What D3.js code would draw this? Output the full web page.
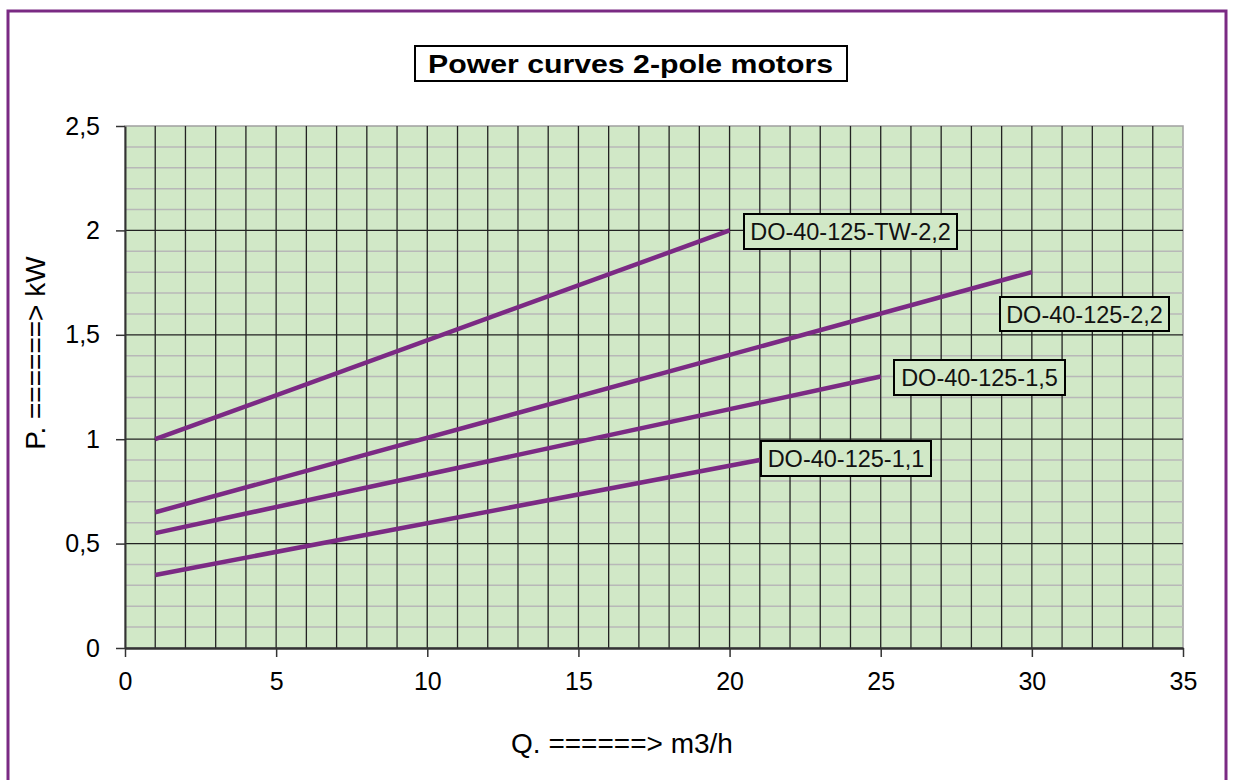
<!DOCTYPE html>
<html><head><meta charset="utf-8">
<script src="https://cdn.jsdelivr.net/npm/d3@7"></script>
<style>body{margin:0;background:#fff;} svg{display:block;font-family:"Liberation Sans",Arial,sans-serif;} text{white-space:pre;}</style>
</head><body>
<svg id="c" width="1233" height="780"></svg>
<script>
const seriesNames = ["DO-40-125-TW-2,2","DO-40-125-2,2","DO-40-125-1,5","DO-40-125-1,1"];
const qTW22 = [1, 20];   const pTW22 = [1.0, 2.0];
const q22   = [1, 30];   const p22   = [0.65, 1.8];
const q15   = [1, 25];   const p15   = [0.55, 1.3];
const q11   = [1, 21];   const p11   = [0.35, 0.9];
const xTicks = [0,5,10,15,20,25,30,35];
const yTicks = [0,0.5,1,1.5,2,2.5];
const yTickLabels = ["0","0,5","1","1,5","2","2,5"];
const title = "Power curves 2-pole motors";
const xTitle = "Q. ======> m3/h";
const yTitle = "P. ======> kW";

const svg = d3.select("#c");
const m = {l:125, r:1183, t:126, b:648};
const x = d3.scaleLinear().domain([0,35]).range([m.l,m.r]);
const y = d3.scaleLinear().domain([0,2.5]).range([m.b,m.t]);

// outer border
svg.append("rect").attr("x",8).attr("y",11).attr("width",1218).attr("height",780)
  .attr("fill","#fff").attr("stroke","#7a2a83").attr("stroke-width",3);

// plot bg
svg.append("rect").attr("x",m.l).attr("y",m.t).attr("width",m.r-m.l).attr("height",m.b-m.t)
  .attr("fill","#d1e8c7").attr("stroke","#a0a0a0").attr("stroke-width",1.5);

const g = svg.append("g");
// minor horizontal grid
d3.range(1,25).filter(i=>i%5!==0).forEach(i=>{
  const v=i/10;
  g.append("line").attr("x1",m.l).attr("x2",m.r).attr("y1",y(v)).attr("y2",y(v))
   .attr("stroke","#b8b8b8").attr("stroke-width",1.5);
});
// major horizontal grid
[0.5,1,1.5,2].forEach(v=>{
  g.append("line").attr("x1",m.l).attr("x2",m.r).attr("y1",y(v)).attr("y2",y(v))
   .attr("stroke","#222").attr("stroke-width",1.3);
});
// vertical grid
d3.range(1,35).forEach(v=>{
  g.append("line").attr("x1",x(v)).attr("x2",x(v)).attr("y1",m.t).attr("y2",m.b)
   .attr("stroke","#222").attr("stroke-width",1.3);
});

// axes
const xAxis = d3.axisBottom(x).tickValues(xTicks).tickSize(9).tickSizeOuter(0).tickFormat(d=>String(d));
const xa = svg.append("g").attr("transform",`translate(0,${m.b})`).call(xAxis);
xa.select(".domain").attr("stroke","#333").attr("stroke-width",2.5);
xa.selectAll(".tick line").attr("stroke","#333").attr("stroke-width",1.5);
xa.selectAll(".tick text").attr("font-size",25).attr("fill","#000").attr("y",24).attr("dy","0.71em").attr("font-family","Liberation Sans, Arial, sans-serif");

const yAxis = d3.axisLeft(y).tickValues(yTicks).tickSize(9).tickSizeOuter(0).tickFormat((d,i)=>yTickLabels[i]);
const ya = svg.append("g").attr("transform",`translate(${m.l},0)`).call(yAxis);
ya.select(".domain").attr("stroke","#333").attr("stroke-width",2);
ya.selectAll(".tick line").attr("stroke","#333").attr("stroke-width",1.5);
ya.selectAll(".tick text").attr("font-size",25).attr("fill","#000").attr("x",-25).attr("font-family","Liberation Sans, Arial, sans-serif");

// lines
const series = [
  {q:qTW22,p:pTW22},{q:q22,p:p22},{q:q15,p:p15},{q:q11,p:p11}
];
const line = d3.line().x(d=>x(d[0])).y(d=>y(d[1]));
series.forEach(s=>{
  svg.append("path").datum(s.q.map((q,i)=>[q,s.p[i]])).attr("d",line)
    .attr("fill","none").attr("stroke","#7b2a84").attr("stroke-width",4.5).attr("stroke-linecap","butt");
});

// labels
const labelPos = [
  {x:744,y:214,w:213,h:35},
  {x:1000,y:297,w:169,h:34},
  {x:894,y:360,w:171,h:35},
  {x:761,y:441,w:170,h:35}
];
seriesNames.forEach((n,i)=>{
  const p=labelPos[i];
  svg.append("rect").attr("x",p.x).attr("y",p.y).attr("width",p.w).attr("height",p.h)
    .attr("fill","#d1e8c7").attr("stroke","#000").attr("stroke-width",2);
  svg.append("text").attr("x",p.x+p.w/2).attr("y",p.y+p.h/2+8.5).attr("text-anchor","middle")
    .attr("font-size",23.5).attr("fill","#111").text(n);
});

// title
svg.append("rect").attr("x",415).attr("y",46).attr("width",432).attr("height",35)
  .attr("fill","#fff").attr("stroke","#000").attr("stroke-width",2);
svg.append("text").attr("x",428).attr("y",72.5)
  .attr("font-size",25).attr("font-weight","bold")
  .attr("textLength",405).attr("lengthAdjust","spacingAndGlyphs").text(title);

// axis titles
svg.append("text").attr("x",622).attr("y",753).attr("text-anchor","middle")
  .attr("font-size",28).text(xTitle);
svg.append("text").attr("transform","translate(45,353) rotate(-90)").attr("text-anchor","middle")
  .attr("font-size",28).text(yTitle);
</script>
</body></html>
